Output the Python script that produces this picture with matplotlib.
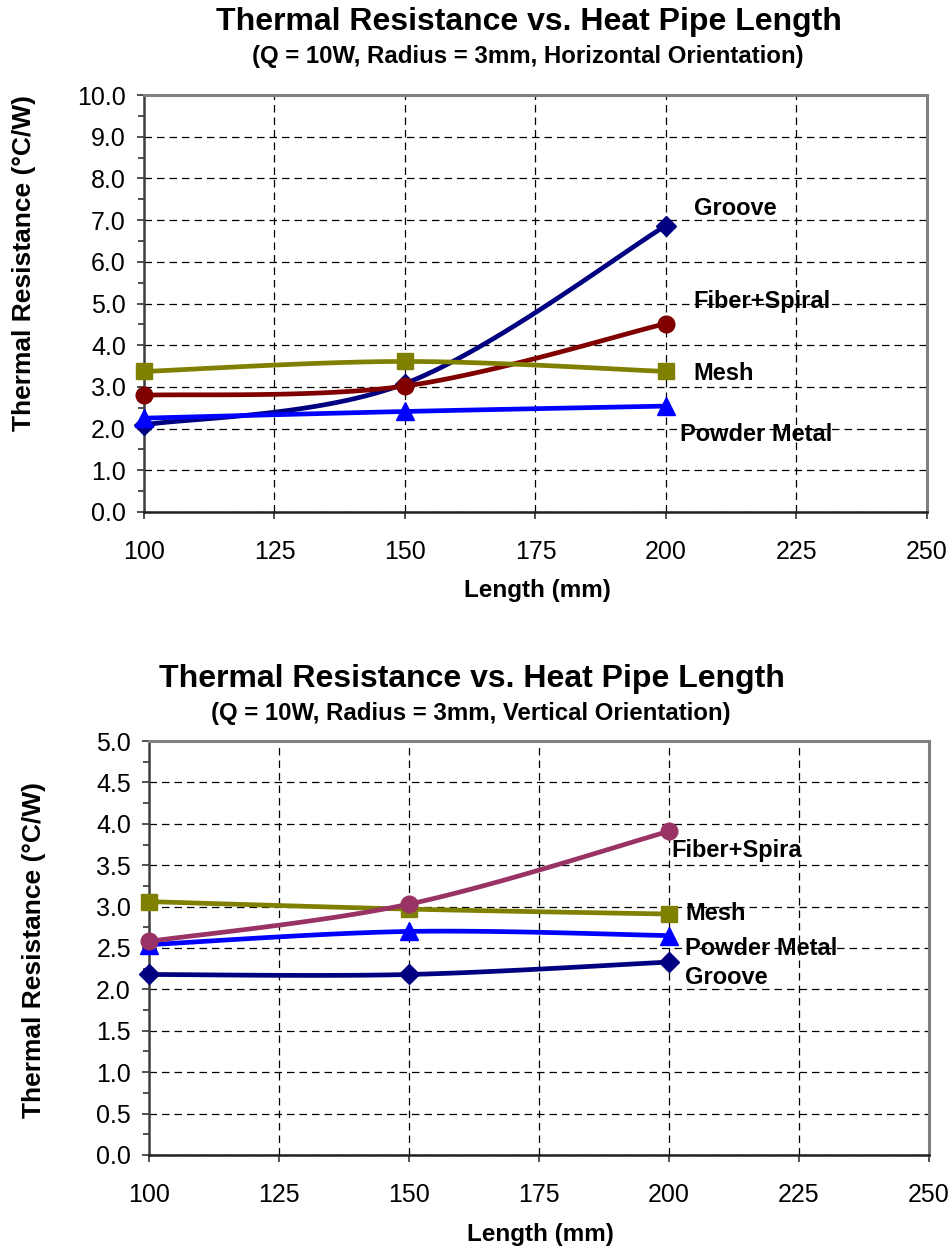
import numpy as np
import matplotlib
matplotlib.use("Agg")
import matplotlib.pyplot as plt
from matplotlib.ticker import MultipleLocator

plt.rcParams['font.family'] = ['Liberation Sans', 'DejaVu Sans']

# ---------------- data ----------------
lengths = [100, 150, 200]

# Horizontal orientation
h_groove = [2.09, 3.08, 6.87]
h_fiber = [2.80, 3.02, 4.52]
h_mesh = [3.37, 3.61, 3.37]
h_powder = [2.25, 2.41, 2.54]

# Vertical orientation
v_groove = [2.18, 2.18, 2.33]
v_powder = [2.54, 2.70, 2.65]
v_mesh = [3.06, 2.97, 2.91]
v_fiber = [2.58, 3.03, 3.91]

x_ticks = [100, 125, 150, 175, 200, 225, 250]
title_main = "Thermal Resistance vs. Heat Pipe Length"
sub_h = "(Q = 10W, Radius = 3mm, Horizontal Orientation)"
sub_v = "(Q = 10W, Radius = 3mm, Vertical Orientation)"
x_label = "Length (mm)"
y_label = "Thermal Resistance (°C/W)"

C_GROOVE = '#000080'
C_FIBER_H = '#800000'
C_FIBER_V = '#993366'
C_MESH = '#808000'
C_POWDER = '#0000FF'


def smooth(x, y, n=40):
    P = np.column_stack([x, y]).astype(float)
    E = np.vstack([P[0], P, P[-1]])
    out = []
    t = np.linspace(0, 1, n)[:, None]
    for i in range(len(P) - 1):
        p0, p1, p2, p3 = E[i], E[i + 1], E[i + 2], E[i + 3]
        c1 = p1 + (p2 - p0) / 6.0
        c2 = p2 - (p3 - p1) / 6.0
        seg = ((1 - t) ** 3) * p1 + 3 * ((1 - t) ** 2) * t * c1 + 3 * (1 - t) * t ** 2 * c2 + t ** 3 * p2
        out.append(seg if i == 0 else seg[1:])
    S = np.vstack(out)
    return S[:, 0], S[:, 1]


def series(ax, y, color, marker, ms, z):
    sx, sy = smooth(lengths, y)
    ax.plot(sx, sy, color=color, lw=3.4, zorder=z, solid_capstyle='round')
    ax.plot(lengths, y, linestyle='none', marker=marker, ms=ms, color=color,
            markeredgecolor=color, zorder=z + 0.5, clip_on=False)


def style_axes(ax, ymax, ystep, yminor):
    ax.set_xlim(100, 250)
    ax.set_ylim(0, ymax)
    ax.set_xticks(x_ticks)
    ax.yaxis.set_major_locator(MultipleLocator(ystep))
    ax.yaxis.set_minor_locator(MultipleLocator(yminor))
    ax.yaxis.set_major_formatter(matplotlib.ticker.FormatStrFormatter('%.1f'))
    ax.grid(True, which='major', color='black', linestyle=(0, (6, 4)), linewidth=0.9)
    ax.set_axisbelow(True)
    ax.tick_params(axis='both', which='major', labelsize=18, length=5, width=1.2, color='#333333')
    ax.tick_params(axis='x', pad=15)
    ax.tick_params(axis='y', pad=8)
    ax.tick_params(axis='y', which='minor', length=4.5, width=1.2, color='#333333')
    for s in ['top', 'right']:
        ax.spines[s].set_color('#808080')
        ax.spines[s].set_linewidth(2.2)
    ax.spines['left'].set_color('#404040')
    ax.spines['left'].set_linewidth(1.8)
    ax.spines['bottom'].set_color('#202020')
    ax.spines['bottom'].set_linewidth(1.8)


fig = plt.figure(figsize=(9.53, 12.49), dpi=100)

# ---------- top chart ----------
ax1 = fig.add_axes([0.1511, 0.5901, 0.8216, 0.3338])
style_axes(ax1, 10, 1.0, 0.5)
series(ax1, h_groove, C_GROOVE, 'D', 10, 3)
series(ax1, h_fiber, C_FIBER_H, 'o', 12, 4)
series(ax1, h_mesh, C_MESH, 's', 11, 5)
series(ax1, h_powder, C_POWDER, '^', 13, 6)
lab_kw = dict(fontsize=17, fontweight='bold', va='center', ha='left', clip_on=False, zorder=10)
ax1.text(205.3, 7.27, "Groove", **lab_kw)
ax1.text(205.3, 5.06, "Fiber+Spiral", **lab_kw)
ax1.text(205.3, 3.33, "Mesh", **lab_kw)
ax1.text(202.6, 1.85, "Powder Metal", **lab_kw)

fig.text(0.555, 0.9824, title_main, ha='center', va='center', fontsize=23, fontweight='bold')
fig.text(0.554, 0.9544, sub_h, ha='center', va='center', fontsize=17.3, fontweight='bold')
fig.text(0.5635, 1 - 591 / 1249, x_label, ha='center', va='center', fontsize=17.5, fontweight='bold')
fig.text(24 / 953, 1 - 263 / 1249, y_label, ha='center', va='center', rotation=90, fontsize=19, fontweight='bold')

# ---------- bottom chart ----------
ax2 = fig.add_axes([0.1563, 0.0753, 0.8185, 0.3314])
style_axes(ax2, 5, 0.5, 0.25)
series(ax2, v_groove, C_GROOVE, 'D', 10, 3)
series(ax2, v_powder, C_POWDER, '^', 13, 4)
series(ax2, v_mesh, C_MESH, 's', 11, 5)
series(ax2, v_fiber, C_FIBER_V, 'o', 12, 6)
ax2.text(200.4, 3.68, "Fiber+Spira", **lab_kw)
ax2.text(203.1, 2.92, "Mesh", **lab_kw)
ax2.text(203.1, 2.49, "Powder Metal", **lab_kw)
ax2.text(203.1, 2.14, "Groove", **lab_kw)

fig.text(0.495, 0.4564, title_main, ha='center', va='center', fontsize=23, fontweight='bold')
fig.text(0.494, 0.4291, sub_v, ha='center', va='center', fontsize=17.3, fontweight='bold')
fig.text(540 / 953, 1 - 1234 / 1249, x_label, ha='center', va='center', fontsize=17.5, fontweight='bold')
fig.text(34 / 953, 1 - 950 / 1249, y_label, ha='center', va='center', rotation=90, fontsize=19, fontweight='bold')

fig.savefig('out.png', dpi=100)
